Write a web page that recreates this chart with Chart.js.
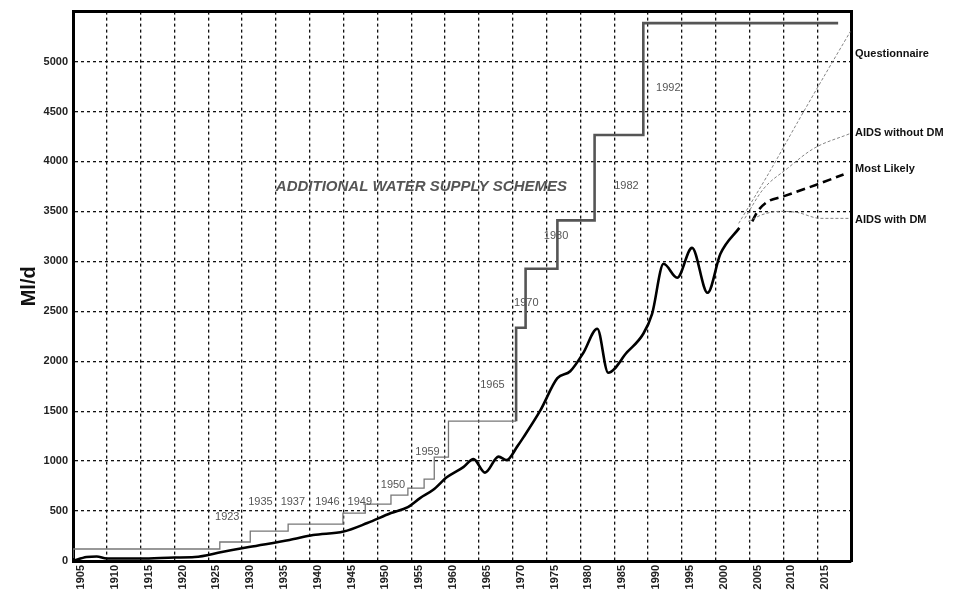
<!DOCTYPE html>
<html>
<head>
<meta charset="utf-8">
<script src="https://cdn.jsdelivr.net/npm/chart.js@4/dist/chart.umd.min.js"></script>
<style>
  body { margin: 0; background: #fff; }
  #wrap { width: 955px; height: 591px; }
</style>
</head>
<body>
<div id="wrap"><canvas id="supply"></canvas></div>
<script>
// demand (historic) curve
const demandYears = [1905, 1907, 1908.5, 1910, 1915, 1920, 1923, 1927, 1931, 1937, 1940.5, 1945, 1948.5, 1952, 1954.5, 1956.3, 1958.2, 1960.3, 1962.7, 1964.2, 1965.9, 1967.9, 1969.1, 1970.7, 1971.6, 1974.1, 1976.6, 1978.5, 1980.4, 1982.5, 1984.1, 1986.9, 1989.3, 1990.6, 1992.3, 1994.3, 1996.5, 1998.8, 2000.7, 2003.5];
const demandValues = [0, 40, 45, 25, 25, 35, 40, 90, 140, 210, 260, 295, 380, 480, 540, 630, 710, 840, 940, 1020, 885, 1045, 1010, 1150, 1240, 1510, 1830, 1900, 2080, 2325, 1885, 2090, 2275, 2475, 2975, 2835, 3135, 2685, 3075, 3335];

// additional water supply schemes (cumulative, step)
const schemeYearsEarly = [1905, 1926.7, 1931.2, 1936.8, 1944.9, 1948.2, 1952.0, 1954.5, 1956.9, 1958.4, 1960.5, 1964.8, 1970.5];
const schemeValuesEarly = [30, 120, 190, 300, 370, 480, 570, 660, 730, 820, 1040, 1400, 1400];
const schemeYearsLate = [1970.5, 1970.5, 1971.9, 1976.6, 1982.1, 1989.3, 1997.0, 2018.1];
const schemeValuesLate = [1400, 1740, 2335, 2925, 3410, 4265, 5385, 5385];

// scheme labels: year of scheme, placed at [x, y] in data units
const schemeNames = ['1923', '1935', '1937', '1946', '1949', '1950', '1959', '1965', '1970', '1980', '1982', '1992'];
const schemeNameX = [1927.8, 1932.7, 1937.5, 1942.6, 1947.4, 1952.3, 1957.4, 1967.0, 1972.0, 1976.4, 1986.8, 1993.0];
const schemeNameY = [440, 590, 590, 590, 590, 760, 1090, 1765, 2585, 3255, 3750, 4740];

// forecasts
const questYears = [2003.4, 2008, 2012, 2016, 2019.9];
const questValues = [3380, 3900, 4380, 4850, 5300];
const noDmYears = [2004.3, 2007, 2010.6, 2014.5, 2019.9];
const noDmValues = [3430, 3720, 3930, 4130, 4280];
const likelyYears = [2005.4, 2006.2, 2007.5, 2010, 2015, 2018.9];
const likelyValues = [3400, 3500, 3590, 3650, 3770, 3870];
const withDmYears = [2004.8, 2007, 2009.5, 2012, 2015.5, 2019.9];
const withDmValues = [3400, 3470, 3500, 3490, 3430, 3430];

const forecastNames = ['Questionnaire', 'AIDS without DM', 'Most Likely', 'AIDS with DM'];
const forecastLabelAt = [5080, 4281, 3922, 3413];

const yTicks = [0, 500, 1000, 1500, 2000, 2500, 3000, 3500, 4000, 4500, 5000];

function pts(xs, ys) {
  return xs.map((x, i) => ({ x: x, y: ys[i] }));
}

const FONT = '"Liberation Sans", Arial, sans-serif';

const notesPlugin = {
  id: 'notes',
  afterDatasetsDraw(chart) {
    const c = chart.ctx;
    const sx = chart.scales.x, sy = chart.scales.y;
    c.save();
    c.textAlign = 'center';
    c.textBaseline = 'middle';
    c.fillStyle = '#555';
    c.font = '11px ' + FONT;
    schemeNames.forEach((t, i) => {
      c.fillText(t, sx.getPixelForValue(schemeNameX[i]), sy.getPixelForValue(schemeNameY[i]));
    });
    c.font = 'italic bold 15px ' + FONT;
    c.fillStyle = '#555';
    c.fillText('ADDITIONAL WATER SUPPLY SCHEMES', sx.getPixelForValue(1956.5), sy.getPixelForValue(3750));
    c.restore();
  }
};

const gridStyle = { color: '#111', lineWidth: 1.3, drawTicks: false };

new Chart(document.getElementById('supply'), {
  type: 'line',
  data: {
    datasets: [
      { data: pts(schemeYearsEarly, schemeValuesEarly), stepped: 'after', borderColor: '#777', borderWidth: 1.3, pointRadius: 0 },
      { data: pts(schemeYearsLate, schemeValuesLate), stepped: 'after', borderColor: '#555', borderWidth: 2.6, pointRadius: 0 },
      { data: pts(questYears, questValues), borderColor: '#777', borderWidth: 0.9, borderDash: [3, 2], pointRadius: 0, tension: 0.3 },
      { data: pts(noDmYears, noDmValues), borderColor: '#777', borderWidth: 0.9, borderDash: [3, 2], pointRadius: 0, cubicInterpolationMode: 'monotone' },
      { data: pts(withDmYears, withDmValues), borderColor: '#777', borderWidth: 0.9, borderDash: [3, 2], pointRadius: 0, cubicInterpolationMode: 'monotone' },
      { data: pts(likelyYears, likelyValues), borderColor: '#000', borderWidth: 2.6, borderDash: [9, 5], pointRadius: 0, cubicInterpolationMode: 'monotone' },
      { data: pts(demandYears, demandValues), borderColor: '#000', borderWidth: 2.6, pointRadius: 0, cubicInterpolationMode: 'monotone' }
    ]
  },
  options: {
    responsive: true,
    maintainAspectRatio: false,
    animation: false,
    layout: { padding: 0 },
    plugins: { legend: { display: false }, tooltip: { enabled: false } },
    scales: {
      x: {
        type: 'linear',
        min: 1905,
        max: 2020,
        afterFit: s => { s.height = 30; },
        grid: gridStyle,
        border: { display: true, width: 3, color: '#000', dash: [3, 3] },
        ticks: {
          stepSize: 5,
          autoSkip: false,
          minRotation: 90,
          maxRotation: 90,
          padding: 4,
          labelOffset: 8,
          color: '#222',
          font: { family: FONT, size: 11, weight: 'bold' },
          callback: v => (v >= 2020 ? '' : String(v))
        }
      },
      y: {
        min: 0,
        max: 5500,
        afterFit: s => { s.width = 73; },
        afterBuildTicks: s => { s.ticks = yTicks.concat([5500]).map(v => ({ value: v })); },
        grid: gridStyle,
        border: { display: true, width: 3, color: '#000', dash: [3, 3] },
        title: { display: true, text: 'Ml/d', color: '#111', font: { family: FONT, size: 20, weight: 'bold' }, padding: { top: 17, bottom: 0 } },
        ticks: {
          padding: 5,
          color: '#222',
          font: { family: FONT, size: 11, weight: 'bold' },
          callback: v => (v >= 5500 ? '' : String(v))
        }
      },
      x2: {
        type: 'linear',
        position: 'top',
        min: 1905,
        max: 2020,
        afterFit: s => { s.height = 10; },
        grid: { display: false },
        border: { display: true, width: 3, color: '#000' },
        ticks: { display: false }
      },
      y2: {
        position: 'right',
        min: 0,
        max: 5500,
        afterFit: s => { s.width = 104; },
        afterBuildTicks: s => { s.ticks = forecastLabelAt.map(v => ({ value: v })); },
        grid: { display: false, drawTicks: false },
        border: { display: true, width: 3, color: '#000' },
        ticks: {
          padding: 4,
          color: '#111',
          font: { family: FONT, size: 11, weight: 'bold' },
          callback: (v, i) => forecastNames[i]
        }
      }
    }
  },
  plugins: [notesPlugin]
});
</script>
</body>
</html>
